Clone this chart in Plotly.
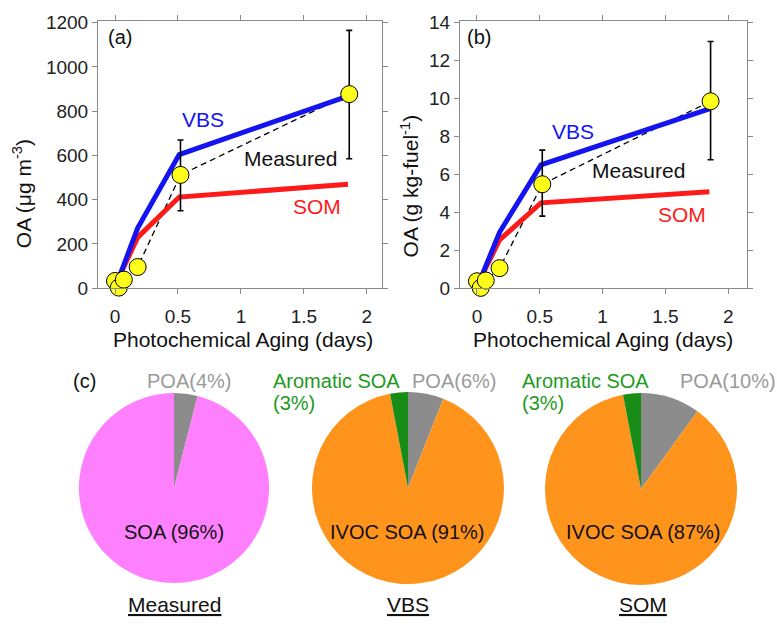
import plotly.graph_objects as go

# ---------------- data ----------------
meas_x = [0.0, 0.03, 0.07, 0.18, 0.52, 1.86]
meas_a = [33, 3, 39, 96, 512, 877]
meas_a_err_plus = [0, 0, 0, 0, 158, 288]
meas_a_err_minus = [0, 0, 0, 0, 162, 292]
meas_b = [0.37, 0.02, 0.41, 1.06, 5.48, 9.85]
meas_b_err_plus = [0, 0, 0, 0, 1.80, 3.15]
meas_b_err_minus = [0, 0, 0, 0, 1.68, 3.08]

model_x = [0.02, 0.18, 0.51, 1.85]
vbs_a = [30, 272, 604, 868]
som_a = [35, 230, 412, 470]
vbs_b = [0.35, 2.95, 6.5, 9.45]
som_b = [0.4, 2.55, 4.5, 5.08]

x_ticks = [0, 0.5, 1, 1.5, 2]
x_ticklabels = ["0", "0.5", "1", "1.5", "2"]
ya_ticks = [0, 200, 400, 600, 800, 1000, 1200]
yb_ticks = [0, 2, 4, 6, 8, 10, 12, 14]

pie_measured_labels = ["POA", "SOA"]
pie_measured_values = [4, 96]
pie_vbs_labels = ["POA", "IVOC SOA", "Aromatic SOA"]
pie_vbs_values = [6, 91, 3]
pie_som_labels = ["POA", "IVOC SOA", "Aromatic SOA"]
pie_som_values = [10, 87, 3]

# ---------------- style ----------------
FONT = "Liberation Sans, Arial, Helvetica, sans-serif"
BLUE = "#1414F0"
RED = "#FF1A1A"
YELLOW = "#FFFF1A"
PINK = "#FF80FF"
GRAY = "#8C8C8C"
ORANGE = "#FF941C"
GREEN = "#178C17"
GREEN_TXT = "#229A22"
GRAY_TXT = "#9A9A9A"
W, H = 777, 629


def px(x):
    return x / W


def py(y):
    return 1 - y / H


fig = go.Figure()


def add_panel(xa, ya, meas_y, ep, em, vbs, som):
    fig.add_trace(go.Scatter(x=meas_x, y=meas_y, mode="lines",
                             line=dict(color="black", width=1.3, dash="6px,4px"),
                             xaxis=xa, yaxis=ya, hoverinfo="skip"))
    fig.add_trace(go.Scatter(x=model_x, y=som, mode="lines",
                             line=dict(color=RED, width=5),
                             xaxis=xa, yaxis=ya))
    fig.add_trace(go.Scatter(x=model_x, y=vbs, mode="lines",
                             line=dict(color=BLUE, width=5),
                             xaxis=xa, yaxis=ya))
    fig.add_trace(go.Scatter(x=meas_x, y=meas_y, mode="markers",
                             marker=dict(color=YELLOW, size=17,
                                         line=dict(color="black", width=1)),
                             error_y=dict(type="data", symmetric=False,
                                          array=ep, arrayminus=em,
                                          color="black", thickness=1.6, width=3),
                             cliponaxis=False,
                             xaxis=xa, yaxis=ya))


add_panel("x", "y", meas_a, meas_a_err_plus, meas_a_err_minus, vbs_a, som_a)
add_panel("x2", "y2", meas_b, meas_b_err_plus, meas_b_err_minus, vbs_b, som_b)

# pies
pie_specs = [
    (pie_measured_labels, pie_measured_values, [GRAY, PINK], 174, 495, 98),
    (pie_vbs_labels, pie_vbs_values, [GRAY, ORANGE, GREEN], 408, 495, 99),
    (pie_som_labels, pie_som_values, [GRAY, ORANGE, GREEN], 641, 496, 99),
]
for labels, values, colors, cx, cy, r in pie_specs:
    fig.add_trace(go.Pie(labels=labels, values=values, sort=False,
                         direction="clockwise", rotation=0,
                         marker=dict(colors=colors, line=dict(width=0)),
                         textinfo="none", hoverinfo="label+value",
                         domain=dict(x=[px(cx - r), px(cx + r)],
                                     y=[py(cy + r), py(cy - r)])))

axis_common = dict(showline=True, linecolor="#8a8a8a", linewidth=1,
                   mirror="ticks", ticks="outside", ticklen=5,
                   tickcolor="#8a8a8a", showgrid=False, zeroline=False,
                   tickfont=dict(family=FONT, size=19, color="#222"))

fig.update_layout(
    width=W, height=H, margin=dict(l=0, r=0, t=0, b=0),
    paper_bgcolor="white", plot_bgcolor="white", showlegend=False,
    font=dict(family=FONT, color="#111"),
    xaxis=dict(domain=[px(98), px(382)], range=[-0.135, 2.12],
               tickvals=x_ticks, ticktext=x_ticklabels, anchor="y",
               ticklabelstandoff=6, **axis_common),
    yaxis=dict(domain=[py(289), py(13)], range=[0, 1209],
               tickvals=ya_ticks, anchor="x", **axis_common),
    xaxis2=dict(domain=[px(460), px(747)], range=[-0.135, 2.15],
                tickvals=x_ticks, ticktext=x_ticklabels, anchor="y2",
                ticklabelstandoff=6, **axis_common),
    yaxis2=dict(domain=[py(289), py(13)], range=[0, 14.1],
                tickvals=yb_ticks, anchor="x2", **axis_common),
)

ann = []


def paper_text(text, x, y, size, color="#111", xanchor="center", textangle=0):
    ann.append(dict(text=text, x=px(x), y=py(y), xref="paper", yref="paper",
                    showarrow=False, xanchor=xanchor, yanchor="middle",
                    textangle=textangle,
                    font=dict(family=FONT, size=size, color=color)))


def data_text(text, x, y, xr, yr, size, color):
    ann.append(dict(text=text, x=x, y=y, xref=xr, yref=yr, showarrow=False,
                    xanchor="center", yanchor="middle",
                    font=dict(family=FONT, size=size, color=color)))


# axis titles
paper_text("Photochemical Aging (days)", 243, 342, 21)
paper_text("Photochemical Aging (days)", 603, 342, 21)
paper_text("OA (μg m<sup>-3</sup>)", 22, 192, 21, textangle=-90)
paper_text("OA (g kg-fuel<sup>-1</sup>)", 410, 184, 21, textangle=-90)
paper_text("(a)", 106, 30, 20, xanchor="left")
paper_text("(b)", 465, 30, 20, xanchor="left")

# series labels
data_text("VBS", 0.70, 762, "x", "y", 21, BLUE)
data_text("Measured", 1.39, 587, "x", "y", 21, "#111")
data_text("SOM", 1.60, 368, "x", "y", 21, RED)
data_text("VBS", 0.765, 8.28, "x2", "y2", 21, BLUE)
data_text("Measured", 1.29, 6.18, "x2", "y2", 21, "#111")
data_text("SOM", 1.63, 3.88, "x2", "y2", 21, RED)

# pie labels
paper_text("(c)", 84, 385, 20)
paper_text("POA(4%)", 145, 385, 20, GRAY_TXT, xanchor="left")
paper_text("SOA (96%)", 174, 540, 20, "#111")
paper_text("<u>Measured</u>", 174, 615, 21, "#111")

paper_text("Aromatic SOA", 271, 385, 20, GREEN_TXT, xanchor="left")
paper_text("(3%)", 271, 407, 20, GREEN_TXT, xanchor="left")
paper_text("POA(6%)", 410, 385, 20, GRAY_TXT, xanchor="left")
paper_text("IVOC SOA (91%)", 408, 540, 20, "#111")
paper_text("<u>VBS</u>", 408, 615, 21, "#111")

paper_text("Aromatic SOA", 520, 385, 20, GREEN_TXT, xanchor="left")
paper_text("(3%)", 520, 407, 20, GREEN_TXT, xanchor="left")
paper_text("POA(10%)", 678, 385, 20, GRAY_TXT, xanchor="left")
paper_text("IVOC SOA (87%)", 643, 540, 20, "#111")
paper_text("<u>SOM</u>", 643, 615, 21, "#111")

fig.update_layout(annotations=ann)
fig.write_html("out.html")
